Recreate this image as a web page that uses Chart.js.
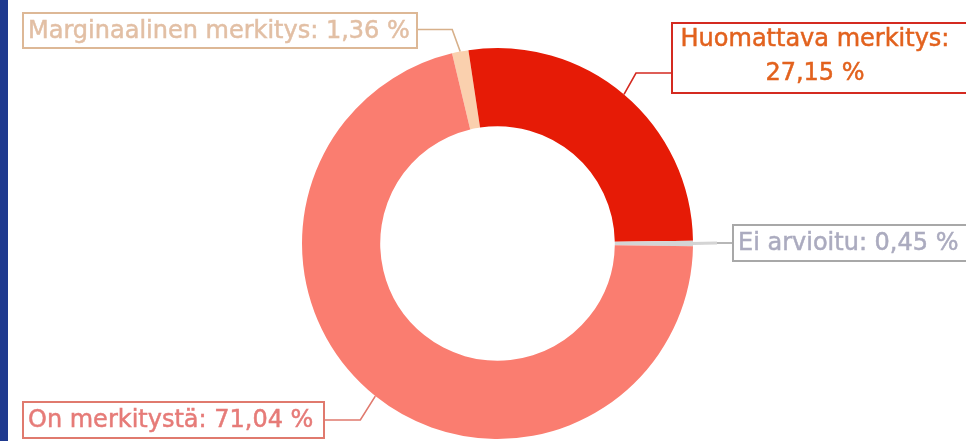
<!DOCTYPE html>
<html>
<head>
<meta charset="utf-8">
<script src="https://cdn.jsdelivr.net/npm/chart.js@4.4.1/dist/chart.umd.min.js"></script>
<style>
  html, body { margin: 0; padding: 0; background: #ffffff; }
  #wrap { position: relative; width: 966px; height: 441px; }
  canvas { display: block; }
</style>
</head>
<body>
<div id="wrap"><canvas id="c" width="966" height="441"></canvas></div>
<script>
// ---- data ----
const categories = ["Marginaalinen merkitys", "Huomattava merkitys", "Ei arvioitu", "On merkitystä"];
const values = [1.36, 27.15, 0.45, 71.04];
const valueLabels = ["1,36 %", "27,15 %", "0,45 %", "71,04 %"];

// ---- styles ----
const sliceColors = ["#FAD0AE", "#E61B06", "#D4D4D4", "#FA7D70"];
const textColors = ["#E2BFA4", "#E2621E", "#ABABBF", "#E67B78"];
const borderColors = ["#DDB896", "#D42A20", "#A8A8A8", "#E07A6E"];
const lineColors = ["#D7B08A", "#D42A20", "#A0A0A0", "#E07A6E"];

// label layout: box rect, label lines, elbow offset
const labelLayout = [
  { box: [22, 12, 396, 37], lines: [categories[0] + ": " + valueLabels[0]], elbowDx: -8 },
  { box: [671, 22, 300, 72], lines: [categories[1] + ":", valueLabels[1]], elbowDx: 12, textCx: 815 },
  { box: [732, 224, 240, 38], lines: [categories[2] + ": " + valueLabels[2]], elbowDx: 24, lightSeg: true },
  { box: [22, 401, 303, 38], lines: [categories[3] + ": " + valueLabels[3]], elbowDx: -15 }
];

const labelPlugin = {
  id: 'calloutLabels',
  beforeDraw(chart) {
    const ctx = chart.ctx;
    ctx.save();
    ctx.fillStyle = '#1F3A8F';
    ctx.fillRect(0, 0, 8, chart.height);
    ctx.restore();
  },
  afterDatasetsDraw(chart) {
    const ctx = chart.ctx;
    const meta = chart.getDatasetMeta(0);
    ctx.save();
    meta.data.forEach((arc, i) => {
      const p = arc.getProps(['x', 'y', 'startAngle', 'endAngle', 'outerRadius'], true);
      const mid = (p.startAngle + p.endAngle) / 2;
      const ax = p.x + Math.cos(mid) * p.outerRadius;
      const ay = p.y + Math.sin(mid) * p.outerRadius;
      const L = labelLayout[i];
      const [bx, by, bw, bh] = L.box;
      const midY = by + bh / 2 + (i === 1 ? 15 : 0) - (i === 0 ? 1 : 0);
      const boxOnRight = bx > ax;
      const edgeX = boxOnRight ? bx : bx + bw;
      const elbowX = ax + L.elbowDx;
      // leader
      ctx.strokeStyle = lineColors[i];
      ctx.lineWidth = 1.6;
      ctx.beginPath();
      ctx.moveTo(ax, ay);
      ctx.lineTo(elbowX, midY);
      ctx.lineTo(edgeX, midY);
      ctx.stroke();
      if (L.lightSeg) {
        ctx.strokeStyle = sliceColors[i];
        ctx.lineWidth = 3;
        ctx.beginPath();
        ctx.moveTo(ax - 2, ay);
        ctx.lineTo(elbowX, midY);
        ctx.stroke();
      }
      // box
      ctx.fillStyle = '#ffffff';
      ctx.fillRect(bx, by, bw, bh);
      ctx.strokeStyle = borderColors[i];
      ctx.lineWidth = 2;
      ctx.strokeRect(bx + 1, by + 1, bw - 2, bh - 2);
      // text
      ctx.fillStyle = textColors[i];
      ctx.strokeStyle = textColors[i];
      ctx.lineWidth = 0.5;
      ctx.font = '24px "DejaVu Sans", Verdana, sans-serif';
      ctx.textBaseline = 'middle';
      if (L.lines.length === 1) {
        ctx.textAlign = 'left';
        ctx.fillText(L.lines[0], bx + 6, by + bh / 2 + 1);
        ctx.strokeText(L.lines[0], bx + 6, by + bh / 2 + 1);
      } else {
        ctx.textAlign = 'center';
        const cx = L.textCx;
        ctx.fillText(L.lines[0], cx, by + 18);
        ctx.strokeText(L.lines[0], cx, by + 18);
        ctx.fillText(L.lines[1], cx, by + 52);
        ctx.strokeText(L.lines[1], cx, by + 52);
      }
    });
    ctx.restore();
  }
};

new Chart(document.getElementById('c'), {
  type: 'doughnut',
  data: {
    labels: categories,
    datasets: [{
      data: values,
      backgroundColor: sliceColors,
      borderWidth: 0,
      hoverOffset: 0
    }]
  },
  options: {
    responsive: false,
    animation: false,
    cutout: '60%',
    rotation: -13.45,
    layout: { padding: { left: 29, right: 0, top: 48, bottom: 2 } },
    plugins: {
      legend: { display: false },
      tooltip: { enabled: false }
    }
  },
  plugins: [labelPlugin]
});
</script>
</body>
</html>
